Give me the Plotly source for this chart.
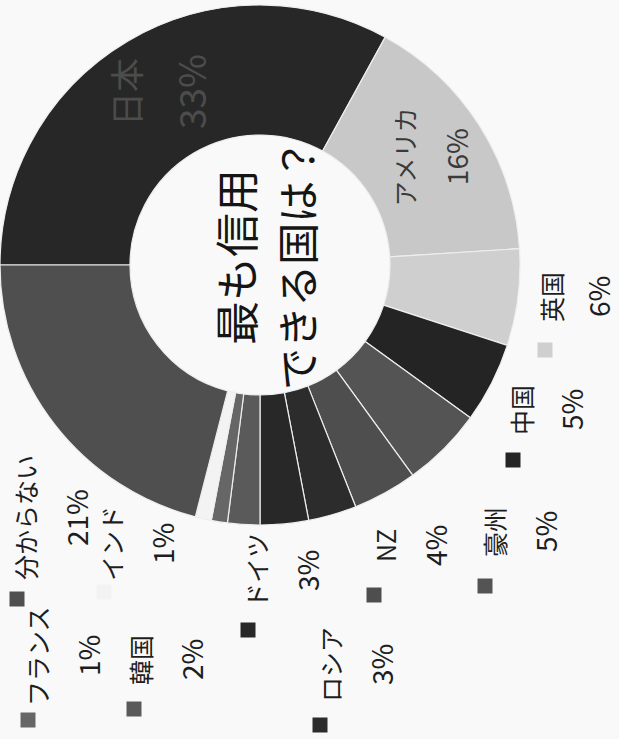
import math
import plotly.graph_objects as go

# Survey: "which country is most trustworthy?" (share of answers, %)
countries = ["日本", "アメリカ", "英国", "中国", "豪州", "NZ", "ロシア",
             "ドイツ", "韓国", "フランス", "インド", "分からない"]
shares = [33, 16, 6, 5, 5, 4, 3, 3, 2, 1, 1, 21]
title_lines = ["最も信用", "できる国は？"]

# grayscale fills for each slice
slice_colors = {
    "日本": "#272727", "アメリカ": "#c8c8c8", "英国": "#cfcfcf", "中国": "#242424",
    "豪州": "#545454", "NZ": "#4e4e4e", "ロシア": "#2c2c2c", "ドイツ": "#282828",
    "韓国": "#5a5a5a", "フランス": "#666666", "インド": "#f3f3f3", "分からない": "#4f4f4f",
}

W, H = 619, 739
FONT = "Noto Sans CJK JP"

# donut placement (pixels)
CX, CY, R = 260, 265, 260
HOLE = 0.5
START = -90  # first slice starts at 9 o'clock, clockwise


def px(x):
    return x / W


def py(y):
    return 1 - y / H


fig = go.Figure(go.Pie(
    labels=countries,
    values=shares,
    sort=False,
    direction="clockwise",
    rotation=START,
    hole=HOLE,
    textinfo="none",
    hoverinfo="label+percent",
    marker=dict(colors=[slice_colors[c] for c in countries],
                line=dict(color="#eeeeee", width=1.2)),
    domain=dict(x=[0, px(2 * CX)], y=[py(CY + R + 5), 1]),
    showlegend=False,
))

annotations = []
shapes = []


def rot_text(x, y, text, size, color="#1e1e1e"):
    annotations.append(dict(
        x=px(x), y=py(y), xref="paper", yref="paper", text=text,
        showarrow=False, textangle=-90, xanchor="center", yanchor="middle",
        font=dict(family=FONT, size=size, color=color),
    ))


# labels drawn inside the two largest named slices
inside = {"日本": dict(size=34, gap=64, color="#4c4c4c"),
          "アメリカ": dict(size=25, gap=52, color="#3a3a3a")}
total = sum(shares)
acc = 0.0
for name, val in zip(countries, shares):
    a0 = START + 360 * acc / total
    acc += val
    a1 = START + 360 * acc / total
    if name in inside:
        mid = math.radians((a0 + a1) / 2)
        r_lab = R * 0.775
        lx = CX + r_lab * math.sin(mid)
        ly = CY - r_lab * math.cos(mid)
        st = inside[name]
        rot_text(lx - st["gap"] / 2, ly, name, st["size"], st["color"])
        rot_text(lx + st["gap"] / 2, ly, f"{val}%", st["size"] + 3, st["color"])

# outside labels with a colour key: name-line centre, key-square centre, line gap (px)
outside_pos = {
    "分からない": ((25, 518), (17, 599), 51),
    "インド": ((111, 544), (104, 592), 51),
    "フランス": ((37, 656), (28, 720), 51),
    "韓国": ((140, 660), (134, 709), 51),
    "ドイツ": ((256, 571), (248, 630), 51),
    "ロシア": ((330, 665), (320, 725), 51),
    "NZ": ((385, 546), (374, 595), 50),
    "豪州": ((494, 532), (485, 586), 51),
    "中国": ((521, 410), (513, 460), 50),
    "英国": ((551, 297), (545, 350), 47),
}
KEY = 15
for name, val in zip(countries, shares):
    if name not in outside_pos:
        continue
    (nx, ny), (kx, ky), gap = outside_pos[name]
    rot_text(nx, ny, name, 25)
    rot_text(nx + gap, ny, f"{val}%", 28)
    shapes.append(dict(
        type="rect", xref="paper", yref="paper",
        x0=px(kx - KEY / 2), x1=px(kx + KEY / 2),
        y0=py(ky + KEY / 2), y1=py(ky - KEY / 2),
        fillcolor=slice_colors[name], line=dict(width=0),
    ))

# centre title, two rotated lines
rot_text(235, 257, title_lines[0], 44, "#151515")
rot_text(295, 265, title_lines[1], 42, "#151515")

fig.update_layout(
    width=W, height=H,
    margin=dict(l=0, r=0, t=0, b=0),
    paper_bgcolor="#f9f9f9",
    plot_bgcolor="#f9f9f9",
    annotations=annotations,
    shapes=shapes,
)

fig.write_html("out.html")
